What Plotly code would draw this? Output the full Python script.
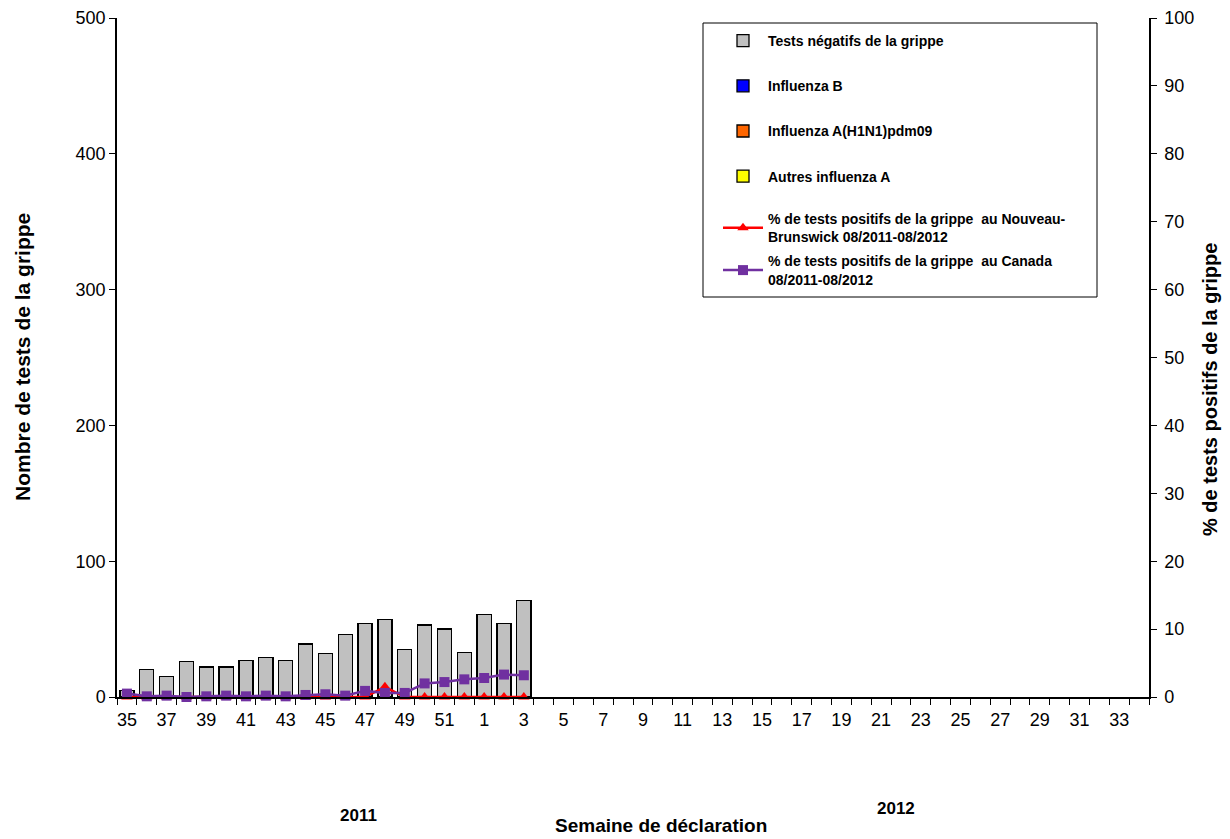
import plotly.graph_objects as go

weeks = [str(w) for w in range(35, 53)] + [str(w) for w in range(1, 35)]
neg_tests = [5, 20, 15, 26, 22, 22, 27, 29, 27, 39, 32, 46, 54, 57, 35, 53, 50, 33, 61, 54, 71]
flu_b = [0] * 21
flu_h1n1 = [0] * 21
flu_other_a = [0] * 21
pct_nb = [0, 0, 0, 0, 0, 0, 0, 0, 0, 0, 0, 0, 0, 1.5, 0, 0, 0, 0, 0, 0, 0]
pct_canada = [0.5, 0.1, 0.2, 0.0, 0.1, 0.2, 0.1, 0.2, 0.1, 0.3, 0.4, 0.2, 0.9, 0.6, 0.6, 2.0, 2.2, 2.6, 2.8, 3.3, 3.2]
tick_labels = weeks[::2]

idx = list(range(len(weeks)))
n = len(neg_tests)
xs = idx[:n]

FONT = "Liberation Sans, Arial, sans-serif"
fig = go.Figure()

bar_line = dict(color="black", width=1.3)
fig.add_trace(go.Bar(x=xs, y=flu_other_a, name="Autres influenza A", marker=dict(color="#FFFF00", line=bar_line),
                     legendrank=4, legendgroup="g4"))
fig.add_trace(go.Bar(x=xs, y=flu_h1n1, name="Influenza A(H1N1)pdm09", marker=dict(color="#FF6600", line=bar_line),
                     legendrank=3, legendgroup="g3"))
fig.add_trace(go.Bar(x=xs, y=flu_b, name="Influenza B", marker=dict(color="#0000FF", line=bar_line),
                     legendrank=2, legendgroup="g2"))
fig.add_trace(go.Bar(x=xs, y=neg_tests, name="Tests négatifs de la grippe", marker=dict(color="#C0C0C0", line=bar_line),
                     legendrank=1, legendgroup="g1"))

fig.add_trace(go.Scatter(x=xs, y=pct_nb, yaxis="y2", mode="lines+markers",
                         name="% de tests positifs de la grippe  au Nouveau-<br>Brunswick 08/2011-08/2012",
                         line=dict(color="#FF0000", width=2.5),
                         marker=dict(symbol="triangle-up", size=10, color="#FF0000"),
                         cliponaxis=False, legend="legend2", legendrank=5, legendgroup="g5"))
fig.add_trace(go.Scatter(x=xs, y=pct_canada, yaxis="y2", mode="lines+markers",
                         name="% de tests positifs de la grippe  au Canada<br>08/2011-08/2012",
                         line=dict(color="#7030A0", width=2.5),
                         marker=dict(symbol="square", size=10, color="#7030A0"),
                         cliponaxis=False, legend="legend2", legendrank=6, legendgroup="g6"))

OFF = 8  # browser body margin
W, H = 1222, 831
L, T = 117 - OFF, 18 - OFF
pw, ph = 1032, 679
R = W - L - pw
B = H - T - ph

def px(x):
    return (x - OFF - L) / pw

def py(y):
    return (H - B - (y - OFF)) / ph

legend_font = dict(family=FONT, size=14, color="black", weight="bold")

def note(text, x, y, size, angle=0):
    return dict(text=text, xref="paper", yref="paper", x=px(x), y=py(y),
                xanchor="center", yanchor="middle", showarrow=False,
                textangle=angle, font=dict(size=size))

fig.update_layout(
    width=W, height=H,
    margin=dict(l=L, r=R, t=T, b=B, pad=0, autoexpand=False),
    paper_bgcolor="white", plot_bgcolor="white",
    barmode="stack", bargap=0.29,
    font=dict(family=FONT, size=18, color="black"),
    showlegend=True,
    legend=dict(x=px(718), y=py(25), xanchor="left", yanchor="top",
                bgcolor="rgba(0,0,0,0)", borderwidth=0, font=legend_font,
                tracegroupgap=24, itemwidth=40),
    legend2=dict(x=px(718), y=py(203), xanchor="left", yanchor="top",
                 bgcolor="rgba(0,0,0,0)", borderwidth=0, font=legend_font,
                 tracegroupgap=3, itemwidth=40),
    xaxis=dict(range=[-0.5, len(weeks) - 0.5], tickmode="array",
               tickvals=idx[::2], ticktext=tick_labels,
               ticks="", showline=True, linecolor="black", linewidth=1.5,
               showgrid=False, zeroline=False, tickfont=dict(size=18),
               ticklabelstandoff=6, automargin=False,
               minor=dict(ticks="outside", tickmode="linear", tick0=-0.5, dtick=1,
                          ticklen=6, tickcolor="black", showgrid=False)),
    yaxis=dict(range=[0, 500], dtick=100, ticks="outside", ticklen=6, tickcolor="black",
               showline=True, linecolor="black", linewidth=1.5, showgrid=False,
               zeroline=False, tickfont=dict(size=18), ticklabeloverflow="allow",
               automargin=False),
    yaxis2=dict(range=[0, 100], dtick=10, overlaying="y", side="right", ticks="outside",
                ticklen=6, tickcolor="black", showline=True, linecolor="black", linewidth=1.5,
                showgrid=False, zeroline=False, tickfont=dict(size=18), ticklabelstandoff=4,
                ticklabeloverflow="allow", automargin=False),
    shapes=[dict(type="rect", xref="paper", yref="paper",
                 x0=px(703), x1=px(1097), y0=py(297), y1=py(23),
                 line=dict(color="black", width=1), fillcolor="rgba(0,0,0,0)")],
    annotations=[
        note("<b>Semaine de déclaration</b>", 661, 825, 19),
        note("<b>2011</b>", 358, 815, 17),
        note("<b>2012</b>", 896, 808, 17),
        note("<b>Nombre de tests de la grippe</b>", 22, 357, 21, -90),
        note("<b>% de tests positifs de la grippe</b>", 1210, 390, 20, -90),
    ],
)

fig.write_html("out.html")
